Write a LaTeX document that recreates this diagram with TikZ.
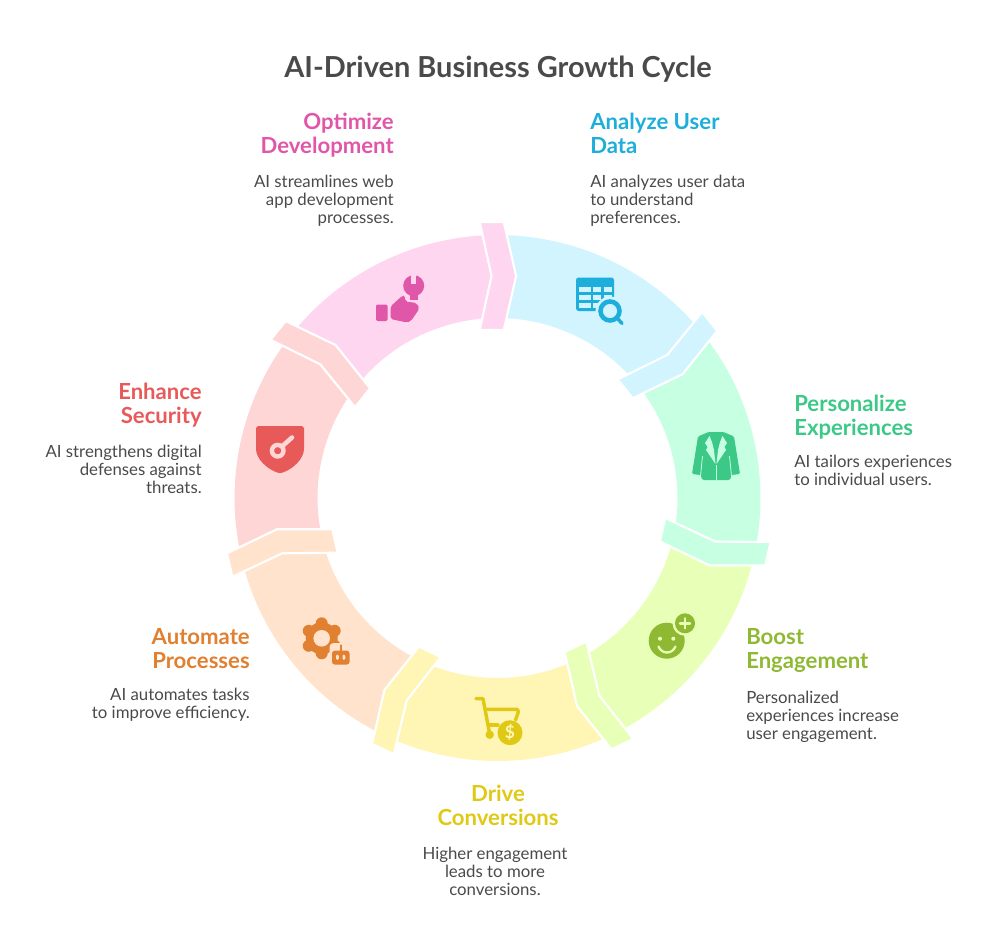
\documentclass[tikz,border=0pt]{standalone}
\usepackage{fontspec}
\setmainfont{Lato}
\usetikzlibrary{positioning}
\definecolor{PaleBlue}{HTML}{D1F4FF}
\definecolor{PalePink}{HTML}{FFD6F0}
\definecolor{PaleRed}{HTML}{FFD6D6}
\definecolor{PaleOrange}{HTML}{FFE3CC}
\definecolor{PaleYellow}{HTML}{FFF6B5}
\definecolor{PaleLime}{HTML}{E8FFB8}
\definecolor{PaleMint}{HTML}{C7FFE3}
\definecolor{DeepBlue}{HTML}{1EAEDB}
\definecolor{DeepPink}{HTML}{E056A8}
\definecolor{DeepRed}{HTML}{E85A5A}
\definecolor{DeepOrange}{HTML}{E08030}
\definecolor{DeepYellow}{HTML}{E0C915}
\definecolor{DeepLime}{HTML}{8FB833}
\definecolor{DeepMint}{HTML}{3CC887}
\definecolor{BodyGrey}{HTML}{4A4A4A}
\tikzset{
  maintitle/.style={font=\bfseries\fontsize{21.7}{24}\selectfont,text=BodyGrey,inner sep=0pt,yshift=-1.5pt},
  headtext/.style={font=\bfseries\fontsize{16.6}{18}\selectfont,inner sep=0pt,yshift=-2.6pt,
    execute at begin node=\strut,execute at end node=\strut},
  bodytext/.style={font=\fontsize{12.6}{13.5}\selectfont,text=BodyGrey,inner sep=0pt,yshift=-1.9pt,
    execute at begin node=\strut,execute at end node=\strut},
  ringband/.style={draw=white,line width=1.6pt,line join=miter},
}
\begin{document}
\begin{tikzpicture}[x=.75pt,y=-.75pt]
  \useasboundingbox (0,0) rectangle (996,949);
  \coordinate (Origin) at (497.5,498);

  % the seven ring pieces, then the bands over their joints
  \foreach \k/\ringfill in {0/PalePink,1/PaleBlue,2/PaleMint,3/PaleLime,4/PaleYellow,5/PaleOrange,6/PaleRed}
  {
    \begin{scope}[shift={(Origin)},rotate=-51.4286*\k]
      \fill[\ringfill] (-141.43:263) arc[start angle=-141.43,end angle=-90,radius=263]
        -- (-90:180) arc[start angle=-90,end angle=-141.43,radius=180] -- cycle;
    \end{scope}
  }
  \foreach \k/\ringfill in {0/PalePink,1/PaleBlue,2/PaleMint,3/PaleLime,4/PaleYellow,5/PaleOrange,6/PaleRed}
  {
    \begin{scope}[shift={(Origin)},rotate=-51.4286*\k]
      \filldraw[ringband,fill=\ringfill] (-17.8,-276) -- (6.3,-276) -- (18.6,-222) -- (6.3,-168)
        -- (-17.8,-168) -- (-6,-222) -- cycle;
    \end{scope}
  }

  % title
  \node[maintitle] (CycleTitle) at (498,67) {AI-Driven Business Growth Cycle};

  % labels
  \node[headtext,text=DeepPink,align=right,anchor=east] (OptimizeHead) at (394,133) {Optimize\\Development};
  \node[bodytext,align=right,anchor=east] (OptimizeBody) at (394,199) {AI streamlines web\\app development\\processes.};
  \node[headtext,text=DeepBlue,align=left,anchor=west] (AnalyzeHead) at (590,133) {Analyze User\\Data};
  \node[bodytext,align=left,anchor=west] (AnalyzeBody) at (590,199) {AI analyzes user data\\to understand\\preferences.};
  \node[headtext,text=DeepMint,align=left,anchor=west] (PersonalizeHead) at (794,415) {Personalize\\Experiences};
  \node[bodytext,align=left,anchor=west] (PersonalizeBody) at (794,470) {AI tailors experiences\\to individual users.};
  \node[headtext,text=DeepLime,align=left,anchor=west] (BoostHead) at (746,649) {Boost\\Engagement};
  \node[bodytext,align=left,anchor=west] (BoostBody) at (746,715) {Personalized\\experiences increase\\user engagement.};
  \node[headtext,text=DeepYellow,align=center] (DriveHead) at (498,805) {Drive\\Conversions};
  \node[bodytext,align=center] (DriveBody) at (495,871) {Higher engagement\\leads to more\\conversions.};
  \node[headtext,text=DeepOrange,align=right,anchor=east] (AutomateHead) at (250,649) {Automate\\Processes};
  \node[bodytext,align=right,anchor=east] (AutomateBody) at (250,703) {AI automates tasks\\to improve efficiency.};
  \node[headtext,text=DeepRed,align=right,anchor=east] (EnhanceHead) at (202,403) {Enhance\\Security};
  \node[bodytext,align=right,anchor=east] (EnhanceBody) at (202,469) {AI strengthens digital\\defenses against\\threats.};

  % table and lens
  \fill[DeepBlue,rounded corners=2pt] (576,277.5) rectangle (614,311);
  \foreach \x/\w in {579/11.5,593/8,603.5/8.5}
  \foreach \y in {287,295,303}
  {
    \fill[PaleBlue] (\x,\y) rectangle ++(\w,5);
  }
  \fill[PaleBlue] (610,311) circle (14.5);
  \draw[DeepBlue,line width=3.4pt] (610,311) circle (9.5);
  \draw[DeepBlue,line width=2.6pt,line cap=round] (617.5,318.5) -- (622,323.5);

  % hand and wrench
  \fill[DeepPink,rounded corners=1pt] (376,304.5) rectangle (387.5,321);
  \fill[DeepPink,rounded corners=1.5pt] (390.5,306.5) -- (402,296) -- (404.5,295.5) -- (405.5,301.5) -- (416.5,303)
    -- (419.5,308.5) -- (411,321) -- (407,322.5) -- (390.5,319) -- cycle;
  \fill[DeepPink] (413.7,285.7) circle (10.5);
  \fill[DeepPink] (409.5,292) rectangle (417.5,300);
  \fill[PalePink] (411.4,272) rectangle (416,283.5);

  % jacket
  \fill[DeepMint,rounded corners=1pt] (708.5,432) -- (723.5,432) -- (734,436.5) -- (740,474) -- (731.5,475)
    -- (730,480) -- (702.5,480) -- (700.5,475) -- (692,474) -- (698,436.5) -- cycle;
  \fill[PaleMint] (709.5,436) -- (705,443) -- (707.5,447) -- (706,450) -- (715.5,464) -- (714,450) -- (712,442) -- cycle;
  \fill[PaleMint] (722.5,436) -- (727,443) -- (724.5,447) -- (726,450) -- (716.5,464) -- (718,450) -- (720,442) -- cycle;
  \draw[PaleMint,line width=.7pt] (716,465) -- (716,480);
  \draw[PaleMint,line width=.6pt] (702.5,456) -- (700.5,476) (729.5,456) -- (731.5,476);

  % smiling face and plus
  \fill[DeepLime] (666.7,640.7) circle (18);
  \fill[PaleLime] (685,623.3) circle (12.5);
  \fill[DeepLime] (685,623.3) circle (10);
  \draw[PaleLime,line width=1.9pt,line cap=round] (680,623.3) -- (690,623.3) (685,618.3) -- (685,628.3);
  \fill[PaleLime] (660,638.7) circle (2) (673.3,638.7) circle (2);
  \draw[PaleLime,line width=1.7pt,line cap=round] (658.5,646.5) .. controls (662,654.5) and (672,654.5) .. (675.5,646.5);

  % cart and coin
  \draw[DeepYellow,line width=2.6pt,line cap=round,line join=round] (476,698.7) -- (483,698.7) -- (489.5,733);
  \draw[DeepYellow,line width=2.6pt,line cap=round,line join=round] (486,709.3) -- (517,709.3) -- (518.5,711.5) -- (515.5,720);
  \draw[DeepYellow,line width=2.6pt,line cap=round] (489,725) -- (498,725);
  \fill[DeepYellow] (489.7,734.7) circle (4.2);
  \fill[DeepYellow] (510,732.7) circle (12.5);
  \node[inner sep=0pt,text=PaleYellow,font=\bfseries\fontsize{13}{13}\selectfont] (CoinMark) at (510,732.7) {\$};

  % shield and gauge
  \fill[DeepRed,rounded corners=2pt] (256,426) -- (304,426) -- (304,446) .. controls (304,459) and (293,469) .. (280,473.5)
    .. controls (267,469) and (256,459) .. (256,446) -- cycle;
  \draw[PaleRed,line width=3.3pt] (277.7,450.7) circle (5.8);
  \draw[PaleRed,line width=3.4pt,line cap=round] (282.5,446) -- (292,437.5);

  % gear and robot
  \foreach \a in {-90,-30,...,210}
  {
    \fill[DeepOrange] (321.7,638.3) ++(\a:15) circle (6);
  }
  \fill[DeepOrange] (321.7,638.3) circle (16);
  \fill[PaleOrange] (321.7,638.3) circle (8.3);
  \fill[PaleOrange,rounded corners=3pt] (329.5,643) rectangle (351.5,666.5);
  \fill[DeepOrange,rounded corners=2pt] (332,650.7) rectangle (349.5,664.5);
  \draw[DeepOrange,line width=1.7pt,line cap=round] (340.7,645.5) -- (340.7,651);
  \fill[PaleOrange,rounded corners=1pt] (336,654.5) rectangle (338.8,660) (342.5,654.5) rectangle (345.3,660);
\end{tikzpicture}
\end{document}
